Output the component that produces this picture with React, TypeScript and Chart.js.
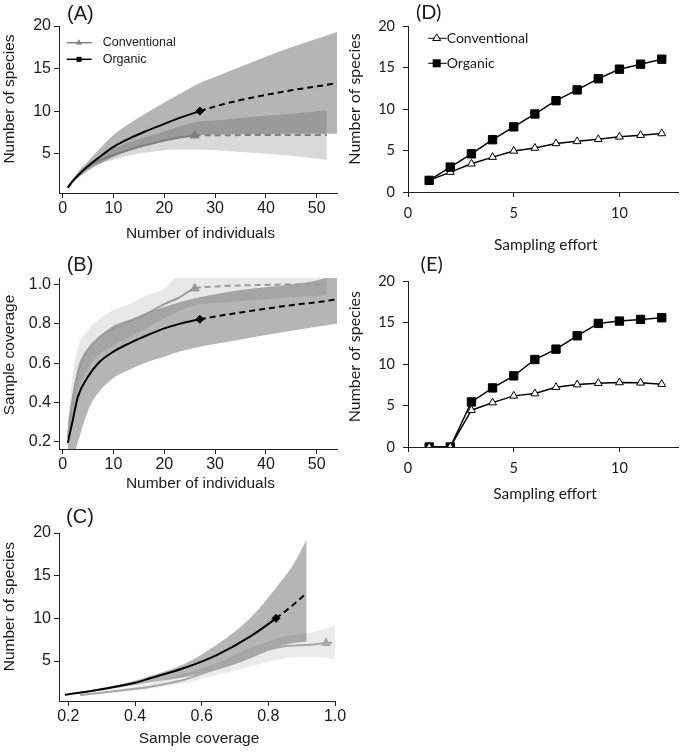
import React, { useEffect, useRef } from 'react';
import { Chart, registerables } from 'chart.js';
Chart.register(...registerables);

// ---------- shared sample sizes (number of individuals) ----------
const ORG_N = [1, 2, 3, 5, 7, 10, 13, 16, 20, 23, 27, 30, 35, 40, 45, 50, 54];
const CON_N = [1, 2, 3, 5, 7, 10, 13, 16, 20, 23, 26, 30, 35, 40, 45, 52];
const ORG_OBS_N = 27;
const CON_OBS_N = 26;

// ---------- (A) species vs individuals ----------
const A_ORG_S = [1, 1.8, 2.45, 3.55, 4.5, 5.8, 6.75, 7.55, 8.5, 9.2, 10.0, 10.55, 11.3, 11.9, 12.45, 12.9, 13.3];
const A_ORG_LO = [1, 1.7, 2.15, 3.0, 3.7, 4.6, 5.3, 5.9, 6.5, 6.9, 7.2, 7.25, 7.3, 7.3, 7.35, 7.35, 7.35];
const A_ORG_HI = [1, 1.95, 2.85, 4.1, 5.4, 7.2, 8.5, 9.6, 11.0, 12.0, 13.3, 14.0, 15.2, 16.4, 17.5, 18.5, 19.3];
const A_CON_S = [1, 1.8, 2.4, 3.5, 4.15, 4.85, 5.45, 5.95, 6.55, 6.9, 7.15, 7.17, 7.18, 7.19, 7.2, 7.2];
const A_CON_LO = [1, 1.65, 2.2, 3.2, 3.8, 4.3, 4.8, 5.1, 5.4, 5.5, 5.5, 5.4, 5.2, 5.0, 4.75, 4.25];
const A_CON_HI = [1, 1.95, 2.6, 3.8, 4.6, 5.6, 6.3, 6.9, 7.6, 8.2, 8.7, 8.9, 9.2, 9.45, 9.7, 10.1];
const A_X_TICKS = [0, 10, 20, 30, 40, 50];
const A_Y_TICKS = [5, 10, 15, 20];

// ---------- (B) sample coverage vs individuals ----------
const B_ORG_C = [0.195, 0.313, 0.43, 0.532, 0.6, 0.659, 0.7, 0.735, 0.777, 0.8, 0.823, 0.837, 0.858, 0.877, 0.895, 0.91, 0.924];
const B_ORG_LO = [0.1, 0.12, 0.2, 0.36, 0.45, 0.525, 0.565, 0.6, 0.633, 0.66, 0.684, 0.697, 0.72, 0.743, 0.765, 0.785, 0.8];
const B_ORG_HI = [0.29, 0.45, 0.58, 0.68, 0.73, 0.79, 0.82, 0.85, 0.885, 0.91, 0.935, 0.95, 0.972, 0.986, 1.0, 1.02, 1.05];
const B_CON_C = [0.22, 0.42, 0.55, 0.665, 0.727, 0.777, 0.81, 0.845, 0.9, 0.935, 0.98, 0.99, 0.995, 0.998, 1.0, 1.0];
const B_CON_LO = [0.17, 0.3, 0.45, 0.57, 0.64, 0.69, 0.73, 0.77, 0.83, 0.865, 0.895, 0.905, 0.915, 0.925, 0.935, 0.945];
const B_CON_HI = [0.3, 0.55, 0.68, 0.77, 0.82, 0.87, 0.9, 0.94, 0.98, 1.05, 1.05, 1.05, 1.05, 1.05, 1.05, 1.05];
const B_Y_TICKS = [0.2, 0.4, 0.6, 0.8, 1.0];

// ---------- (C) species vs sample coverage ----------
const C_ORG_COV = [0.19, 0.3, 0.4, 0.445, 0.545, 0.645, 0.745, 0.823, 0.875, 0.915];
const C_ORG_S = [1.05, 1.7, 2.45, 2.98, 4.15, 5.7, 7.86, 10.0, 11.6, 12.96];
const C_ORG_LO = [1.0, 1.55, 2.2, 2.5, 3.1, 3.96, 5.3, 6.6, 7.1, 7.3];
const C_ORG_HI = [1.1, 1.85, 2.7, 3.25, 4.6, 6.9, 10.0, 13.6, 16.3, 19.2];
const C_ORG_OBS = 0.823;
const C_CON_COV = [0.235, 0.3, 0.4, 0.445, 0.545, 0.645, 0.745, 0.845, 0.925, 0.973, 1.0];
const C_CON_S = [1.0, 1.3, 1.75, 2.0, 2.78, 4.15, 5.7, 6.7, 6.9, 7.1, 7.15];
const C_CON_LO = [0.95, 1.15, 1.5, 1.75, 2.4, 3.37, 4.34, 5.3, 5.5, 5.4, 5.13];
const C_CON_HI = [1.05, 1.45, 2.0, 2.4, 3.5, 4.74, 6.5, 7.86, 8.3, 8.8, 9.2];
const C_CON_OBS = 0.973;
const C_X_TICKS = [0.2, 0.4, 0.6, 0.8, 1.0];

// ---------- (D) and (E) species vs sampling effort ----------
const EFFORT = [1, 2, 3, 4, 5, 6, 7, 8, 9, 10, 11, 12];
const D_CON = [1.4, 2.4, 3.4, 4.2, 4.95, 5.3, 5.85, 6.1, 6.35, 6.65, 6.85, 7.05];
const D_ORG = [1.4, 3.0, 4.6, 6.3, 7.85, 9.4, 11.0, 12.3, 13.65, 14.8, 15.4, 16.0];
const E_CON = [0, 0, 4.43, 5.35, 6.16, 6.44, 7.2, 7.52, 7.69, 7.77, 7.73, 7.57];
const E_ORG = [0, 0, 5.43, 7.12, 8.57, 10.54, 11.79, 13.4, 14.89, 15.17, 15.37, 15.57];
const DE_X_TICKS = [0, 5, 10];
const DE_Y_TICKS = [0, 5, 10, 15, 20];

const LABEL_CON = 'Conventional';
const LABEL_ORG = 'Organic';

// ---------- styling ----------
const FONT_R = '"Liberation Sans", Arial, sans-serif';
const FONT_X = 'Lato, "Liberation Sans", sans-serif';
const TEXT = '#1a1a1a';
const AXIS = '#222222';

const xy = (xs: number[], ys: number[]) => xs.map((x, i) => ({ x, y: ys[i] }));
const at = (xs: number[], ys: number[], v: number) => {
  const i = xs.indexOf(v);
  return [{ x: xs[i], y: ys[i] }];
};

function drawMarker(ctx: CanvasRenderingContext2D, kind: string, x: number, y: number, r: number, color: string) {
  ctx.save();
  if (kind === 'square') {
    ctx.fillStyle = color;
    ctx.fillRect(x - r, y - r, 2 * r, 2 * r);
  } else {
    ctx.beginPath();
    ctx.moveTo(x, y - r);
    ctx.lineTo(x + r * 0.866, y + r / 2);
    ctx.lineTo(x - r * 0.866, y + r / 2);
    ctx.closePath();
    if (kind === 'openTriangle') {
      ctx.fillStyle = '#ffffff';
      ctx.fill();
      ctx.strokeStyle = color;
      ctx.lineWidth = 1;
      ctx.stroke();
    } else {
      ctx.fillStyle = color;
      ctx.fill();
    }
  }
  ctx.restore();
}

function makeOverlay(texts: any[], legend: any[]) {
  return {
    id: 'overlay',
    afterDraw(chart: any) {
      const ctx = chart.ctx as CanvasRenderingContext2D;
      texts.forEach((t) => {
        ctx.save();
        ctx.font = `${t.size}px ${t.family}`;
        ctx.fillStyle = TEXT;
        ctx.textAlign = 'center';
        ctx.textBaseline = 'middle';
        ctx.translate(t.x, t.y);
        if (t.rotate) ctx.rotate(-Math.PI / 2);
        ctx.fillText(t.text, 0, 0);
        ctx.restore();
      });
      legend.forEach((l) => {
        ctx.save();
        ctx.strokeStyle = l.color;
        ctx.lineWidth = l.lineWidth;
        ctx.beginPath();
        ctx.moveTo(l.x1, l.y);
        ctx.lineTo(l.x2, l.y);
        ctx.stroke();
        drawMarker(ctx, l.marker, l.mx, l.y, l.r, l.color);
        ctx.font = `${l.size}px ${l.family}`;
        ctx.fillStyle = TEXT;
        ctx.textAlign = 'left';
        ctx.textBaseline = 'middle';
        ctx.fillText(l.label, l.tx, l.y);
        ctx.restore();
      });
    },
  };
}

function axis(o: any) {
  return {
    type: 'linear',
    min: o.min,
    max: o.max,
    afterBuildTicks: (s: any) => {
      s.ticks = o.ticks.map((v: number) => ({ value: v }));
    },
    afterFit: (s: any) => {
      if (o.isX) s.height = o.fit;
      else s.width = o.fit;
    },
    ticks: {
      autoSkip: false,
      maxRotation: 0,
      padding: o.pad,
      color: TEXT,
      font: { family: o.family, size: o.size },
      callback: (v: number) => (o.fmt ? o.fmt(v) : String(v)),
    },
    grid: { display: true, drawOnChartArea: false, drawTicks: true, tickLength: 5, color: AXIS, lineWidth: 1 },
    border: { display: true, color: AXIS, width: 1 },
    title: { display: false },
  };
}

function band(xs: number[], lo: number[], hi: number[], color: string) {
  const base = { borderWidth: 0, pointRadius: 0, cubicInterpolationMode: 'monotone' };
  return [
    { ...base, data: xy(xs, lo), fill: false },
    { ...base, data: xy(xs, hi), fill: '-1', backgroundColor: color },
  ];
}

function curve(xs: number[], ys: number[], obs: number, color: string) {
  return {
    data: xy(xs, ys),
    borderColor: color,
    borderWidth: 2,
    pointRadius: 0,
    fill: false,
    cubicInterpolationMode: 'monotone',
    segment: { borderDash: (c: any) => (c.p0.parsed.x >= obs - 1e-9 ? [6, 4] : undefined) },
  };
}

function marker(data: any[], style: string, r: number, color: string) {
  return {
    data,
    showLine: false,
    pointStyle: style,
    pointRadius: r,
    pointBackgroundColor: color,
    pointBorderColor: color,
    pointBorderWidth: 1,
    fill: false,
  };
}

function rarefaction(p: any) {
  return [
    marker(p.orgMark, 'rectRot', 4, '#000000'),
    marker(p.conMark, 'triangle', 5, p.conColor),
    curve(p.orgX, p.orgY, p.orgObs, '#000000'),
    curve(p.conX, p.conY, p.conObs, p.conColor),
    ...band(p.orgX, p.orgLo, p.orgHi, `rgba(0,0,0,${p.orgAlpha})`),
    ...band(p.conX, p.conLo, p.conHi, `rgba(0,0,0,${p.conAlpha})`),
  ];
}

function effortDatasets(con: number[], org: number[], conOnTop: boolean) {
  const c = {
    data: xy(EFFORT, con),
    borderColor: '#000000',
    borderWidth: 1.5,
    pointStyle: 'triangle',
    pointRadius: 4.5,
    pointBackgroundColor: '#ffffff',
    pointBorderColor: '#000000',
    pointBorderWidth: 1,
    tension: 0,
    fill: false,
  };
  const o = {
    data: xy(EFFORT, org),
    borderColor: '#000000',
    borderWidth: 1.5,
    pointStyle: 'rect',
    pointRadius: 5.9,
    pointBackgroundColor: '#000000',
    pointBorderColor: '#000000',
    pointBorderWidth: 1,
    tension: 0,
    fill: false,
  };
  return conOnTop ? [c, o] : [o, c];
}

function makeConfig(s: any) {
  return {
    type: 'line',
    data: { datasets: s.datasets },
    options: {
      responsive: false,
      animation: false,
      events: [],
      layout: { padding: { left: 0, top: s.area.T, right: s.w - s.area.R, bottom: 0 } },
      plugins: { legend: { display: false }, tooltip: { enabled: false }, title: { display: false } },
      scales: {
        x: axis({ ...s.x, isX: true, fit: s.h - s.area.B }),
        y: axis({ ...s.y, isX: false, fit: s.area.L }),
      },
    },
    plugins: [makeOverlay(s.texts, s.legend || [])],
  };
}

function Panel({ spec }: { spec: any }) {
  const ref = useRef<HTMLCanvasElement | null>(null);
  useEffect(() => {
    const chart = new Chart(ref.current as HTMLCanvasElement, makeConfig(spec) as any);
    return () => chart.destroy();
  }, []);
  return (
    <canvas
      ref={ref}
      width={spec.w}
      height={spec.h}
      style={{ position: 'absolute', left: spec.left, top: spec.top, width: spec.w, height: spec.h }}
    />
  );
}

const R_TICK = { family: FONT_R, size: 16 };
const X_TICK = { family: FONT_X, size: 14.5 };
const rt = (text: string, x: number, y: number, size: number, rotate = false) => ({ text, x, y, size, family: FONT_R, rotate });
const xt = (text: string, x: number, y: number, size: number, rotate = false) => ({ text, x, y, size, family: FONT_X, rotate });

const SPECS = [
  {
    left: 0, top: 0, w: 345, h: 250,
    area: { L: 59, T: 26, R: 337, B: 193 },
    x: { min: -0.73, max: 54, ticks: A_X_TICKS, pad: 1, ...R_TICK },
    y: { min: 0.38, max: 20, ticks: A_Y_TICKS, pad: 3, ...R_TICK },
    datasets: rarefaction({
      orgX: ORG_N, orgY: A_ORG_S, orgLo: A_ORG_LO, orgHi: A_ORG_HI, orgObs: ORG_OBS_N, orgMark: at(ORG_N, A_ORG_S, ORG_OBS_N),
      conX: CON_N, conY: A_CON_S, conLo: A_CON_LO, conHi: A_CON_HI, conObs: CON_OBS_N, conMark: at(CON_N, A_CON_S, CON_OBS_N),
      conColor: '#7f7f7f', orgAlpha: 0.29, conAlpha: 0.15,
    }),
    texts: [rt('(A)', 80.3, 14.5, 20), rt('Number of species', 9.5, 99, 15.5, true), rt('Number of individuals', 200.4, 233.3, 15.5)],
    legend: [
      { label: LABEL_CON, x1: 66.7, x2: 91.7, mx: 79, y: 42.7, tx: 102.7, color: '#7f7f7f', lineWidth: 1.5, marker: 'triangle', r: 3.5, size: 12.5, family: FONT_R },
      { label: LABEL_ORG, x1: 66.7, x2: 91.7, mx: 79, y: 59.3, tx: 102.7, color: '#000000', lineWidth: 1.5, marker: 'square', r: 2.5, size: 12.5, family: FONT_R },
    ],
  },
  {
    left: 0, top: 250, w: 345, h: 250,
    area: { L: 59, T: 28, R: 337, B: 199 },
    x: { min: -0.73, max: 54, ticks: A_X_TICKS, pad: 1, ...R_TICK },
    y: { min: 0.164, max: 1.033, ticks: B_Y_TICKS, pad: 3, fmt: (v: number) => v.toFixed(1), ...R_TICK },
    datasets: rarefaction({
      orgX: ORG_N, orgY: B_ORG_C, orgLo: B_ORG_LO, orgHi: B_ORG_HI, orgObs: ORG_OBS_N, orgMark: at(ORG_N, B_ORG_C, ORG_OBS_N),
      conX: CON_N, conY: B_CON_C, conLo: B_CON_LO, conHi: B_CON_HI, conObs: CON_OBS_N, conMark: at(CON_N, B_CON_C, CON_OBS_N),
      conColor: '#9a9a9a', orgAlpha: 0.29, conAlpha: 0.09,
    }),
    texts: [rt('(B)', 80, 15, 20), rt('Sample coverage', 9.5, 105, 15.5, true), rt('Number of individuals', 200.4, 233.3, 15.5)],
  },
  {
    left: 0, top: 500, w: 365, h: 253,
    area: { L: 59, T: 33, R: 335, B: 201 },
    x: { min: 0.172, max: 1.0, ticks: C_X_TICKS, pad: 1, fmt: (v: number) => v.toFixed(1), ...R_TICK },
    y: { min: 0.32, max: 20, ticks: A_Y_TICKS, pad: 3, ...R_TICK },
    datasets: rarefaction({
      orgX: C_ORG_COV, orgY: C_ORG_S, orgLo: C_ORG_LO, orgHi: C_ORG_HI, orgObs: C_ORG_OBS, orgMark: at(C_ORG_COV, C_ORG_S, C_ORG_OBS),
      conX: C_CON_COV, conY: C_CON_S, conLo: C_CON_LO, conHi: C_CON_HI, conObs: C_CON_OBS, conMark: at(C_CON_COV, C_CON_S, C_CON_OBS),
      conColor: '#a8a8a8', orgAlpha: 0.29, conAlpha: 0.08,
    }),
    texts: [rt('(C)', 80, 17, 20), rt('Number of species', 9.5, 106.7, 15.5, true), rt('Sample coverage', 199, 238.3, 15.5)],
  },
  {
    left: 345, top: 0, w: 340, h: 258,
    area: { L: 63, T: 26, R: 333, B: 192 },
    x: { min: 0, max: 12.77, ticks: DE_X_TICKS, pad: 8, ...X_TICK },
    y: { min: 0, max: 20, ticks: DE_Y_TICKS, pad: 8, ...X_TICK },
    datasets: effortDatasets(D_CON, D_ORG, false),
    texts: [xt('(D)', 83.7, 12.5, 20), xt('Number of species', 10, 99, 16, true), xt('Sampling effort', 200.7, 245, 15.5)],
    legend: [
      { label: LABEL_CON, x1: 83.3, x2: 101.7, mx: 91.7, y: 38.3, tx: 101.7, color: '#000000', lineWidth: 1, marker: 'openTriangle', r: 4.5, size: 14, family: FONT_X },
      { label: LABEL_ORG, x1: 83.3, x2: 101.7, mx: 91.7, y: 63.3, tx: 101.7, color: '#000000', lineWidth: 1, marker: 'square', r: 4, size: 14, family: FONT_X },
    ],
  },
  {
    left: 345, top: 250, w: 340, h: 262,
    area: { L: 63, T: 31, R: 333, B: 197 },
    x: { min: 0, max: 12.77, ticks: DE_X_TICKS, pad: 8, ...X_TICK },
    y: { min: 0, max: 20, ticks: DE_Y_TICKS, pad: 8, ...X_TICK },
    datasets: effortDatasets(E_CON, E_ORG, true),
    texts: [xt('(E)', 86.7, 15, 20), xt('Number of species', 10, 106.7, 16, true), xt('Sampling effort', 200, 244, 15.5)],
  },
];

export default function App() {
  return (
    <div style={{ position: 'absolute', left: 0, top: 0, width: 685, height: 753, background: '#ffffff' }}>
      {SPECS.map((s, i) => (
        <Panel key={i} spec={s} />
      ))}
    </div>
  );
}
